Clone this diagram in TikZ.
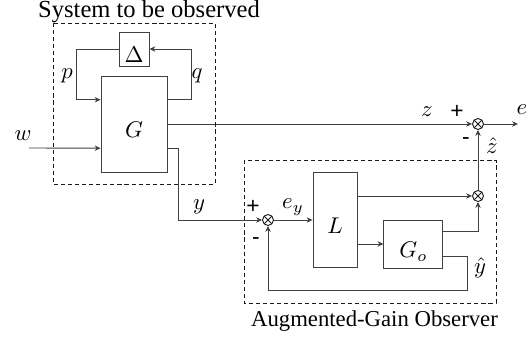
\documentclass[tikz,border=0pt]{standalone}
\usepackage[no-math]{fontspec}
\setmainfont{Liberation Serif}
\newfontfamily\signfont{Liberation Sans}
\usetikzlibrary{arrows.meta,calc}
\newdimen\pxu \pxu=0.44pt
\begin{document}
\begin{tikzpicture}[x=0.44pt,y=-0.44pt,
  line width=0.4pt,
  blk/.style={draw=black!75, inner sep=0pt, text height=12pt, text depth=0pt},
  sumn/.style={draw=black!90, circle, minimum size=11\pxu, inner sep=0pt,
    path picture={\draw[black!90] (path picture bounding box.north west)--(path picture bounding box.south east)
                        (path picture bounding box.north east)--(path picture bounding box.south west);}},
  sig/.style={draw=black!75, -{Stealth[length=2.6pt,width=2.4pt]}},
  lbl/.style={inner sep=0pt},
  pm/.style={inner sep=0pt, font=\signfont},
  grp/.style={draw=black!90, line width=0.35pt, dash pattern=on 1.8pt off 1.3pt},
]
\useasboundingbox (0,0) rectangle (532,345);

% blocks
\node[blk, minimum width=30\pxu, minimum height=34\pxu] (D) at (134,49) {$\Delta$};
\node[blk, minimum width=66\pxu, minimum height=96\pxu] (G) at (134,124) {$G$};
\node[blk, minimum width=44\pxu, minimum height=95\pxu] (L) at (335,220) {$L$};

\coordinate (Gp) at ($(G.north west)!.25!(G.south west)$);
\coordinate (Gw) at ($(G.north west)!.75!(G.south west)$);
\coordinate (Gq) at ($(G.north east)!.25!(G.south east)$);
\coordinate (Gy) at ($(G.north east)!.75!(G.south east)$);
\coordinate (Lu) at ($(L.north east)!.25!(L.south east)$);
\coordinate (Ll) at ($(L.north east)!.75!(L.south east)$);

\node[blk, minimum width=59\pxu, minimum height=48\pxu, anchor=west] (Go) at ($(Ll)+(26,0)$) {$G_o$};
\coordinate (Gou) at ($(Go.north east)!.25!(Go.south east)$);
\coordinate (Gol) at ($(Go.north east)!.75!(Go.south east)$);

% summing junctions
\node[sumn] (S1) at (478,124) {};
\node[sumn] (S2) at (268,220) {};
\node[sumn] (S3) at (S1 |- Lu) {};

\coordinate (w0) at (29,148);
\coordinate (e0) at (518,124);

% connectors
\draw[sig] (D.west) -- ++(-42,0) |- (Gp);
\draw[sig] (Gq) -- ++(24,0) |- (D.east);
\draw[sig] (w0) -- (Gw);
\draw[sig] (G.east) -- (S1);
\draw[sig] (S1) -- (e0);
\draw[sig] (Gy) -- ++(11,0) |- (S2);
\draw[sig] (S2) -- (L);
\draw[sig] (Lu) -- (S3);
\draw[sig] (Ll) -- (Go);
\draw[sig] (Gou) -| (S3);
\draw[sig] (S3) -- (S1);
\draw[sig] (Gol) -- ++(24,0) -- ++(0,34) -| (S2);

% dashed groups
\draw[grp] (53,23) rectangle (215,184);
\draw[grp] (244,160) rectangle (496,303);
\node[anchor=base, font=\fontsize{10.8}{13}\selectfont] (t1) at (149,18) {System to be observed};
\node[anchor=base] (t2) at (374.5,327) {Augmented-Gain Observer};

% labels
\node[lbl] (lp) at (67,76) {$p$};
\node[lbl] (lq) at (197,76) {$q$};
\node[lbl] (lw) at (23,136) {$w$};
\node[lbl] (lz) at (427,112) {$z$};
\node[pm] (pl1) at (457,112) {+};
\node[lbl] (le) at (522,110) {$e$};
\node[pm] (mi1) at (466,141) {-};
\node[lbl] (lzh) at (492,146) {$\hat{z}$};
\node[lbl] (ly) at (199,207) {$y$};
\node[pm] (pl2) at (253,207) {+};
\node[lbl] (ley) at (293,207) {$e_y$};
\node[pm] (mi2) at (256,241) {-};
\node[lbl] (lyh) at (480,268) {$\hat{y}$};
\end{tikzpicture}
\end{document}
